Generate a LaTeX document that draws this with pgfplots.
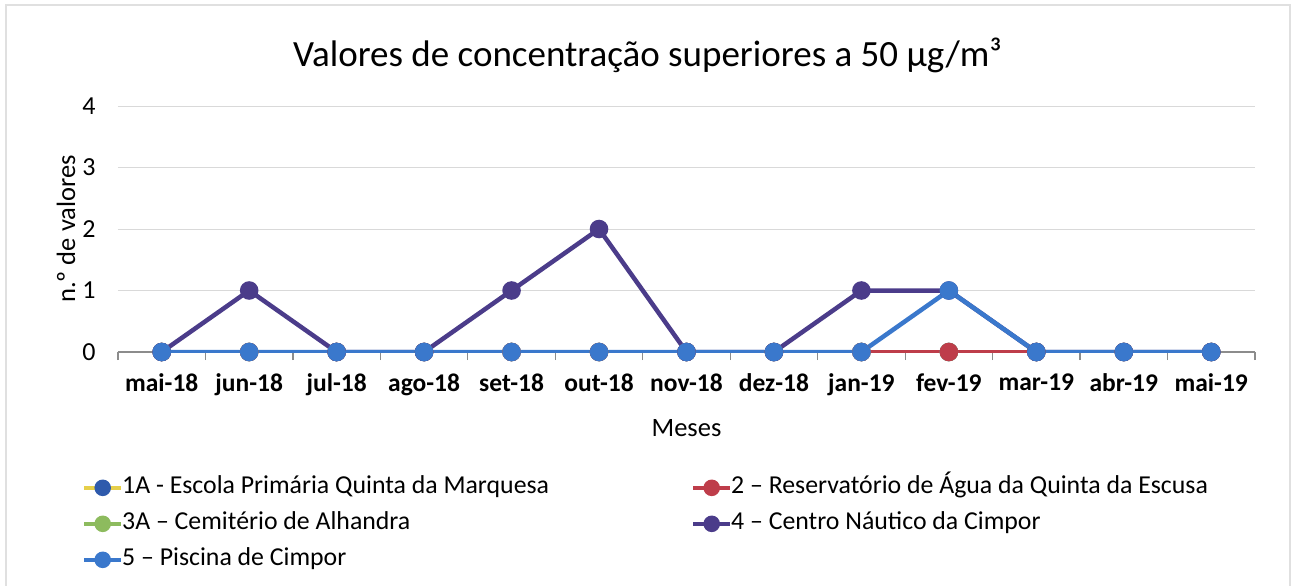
\documentclass[border=0pt]{standalone}
\usepackage{pgfplots}
\pgfplotsset{compat=1.18}
\usepackage{fontspec}
\setmainfont{Carlito}
\definecolor{cyel}{HTML}{E6CF4A}
\definecolor{c1mk}{HTML}{2E5AAC}
\definecolor{cred}{HTML}{BE3D4A}
\definecolor{cgrn}{HTML}{8DBB5E}
\definecolor{cpur}{HTML}{4B3C8A}
\definecolor{cblu}{HTML}{3A78CC}
\begin{document}
\begin{tikzpicture}[x=1pt,y=1pt]
\path[use as bounding box] (-118,-234) rectangle (1178,352);
\draw[black!12, line width=1.5pt] (-112,-262) rectangle (1172,347);
\node[font=\fontsize{37}{42}\selectfont] at (529.5,297) {Valores de concentração superiores a 50 µg/m³};
\begin{axis}[at={(0,0)}, anchor=south west, scale only axis,
  width=1137pt, height=246pt,
  xmin=-0.5, xmax=12.5, ymin=0, ymax=4,
  axis x line=bottom, axis y line=left,
  y axis line style={draw=none},
  x axis line style={-, color=black!45, line width=1.2pt},
  xtick={0,...,12},
  xticklabels={mai-18,jun-18,jul-18,ago-18,set-18,out-18,nov-18,dez-18,jan-19,fev-19,mar-19,abr-19,mai-19},
  minor xtick={-0.5,0.5,...,12.5},
  major tick length=0pt, minor tick length=8pt,
  tick align=outside,
  minor tick style={color=black!45, line width=1.2pt},
  ytick={0,...,4},
  ymajorgrids, grid style={black!15, line width=1pt},
  /pgf/number format/assume math mode=true,
  xticklabel style={font=\bfseries\fontsize{25.5}{30}\selectfont, yshift=-18pt},
  yticklabel style={font=\fontsize{26}{30}\selectfont, xshift=-19pt},
  xlabel={Meses}, ylabel={n.º de valores},
  label style={font=\fontsize{26.5}{30}\selectfont},
  xlabel style={yshift=-17pt},
  ylabel style={yshift=0pt},
  every axis plot/.append style={line width=4.5pt, mark=*, mark size=7pt},
  legend image code/.code={\draw[overlay,mark repeat=2,mark phase=2,mark size=6pt,#1] plot coordinates {(-4pt,0pt) (14.5pt,0pt) (33pt,0pt)};
    \path[draw=none, fill=none] (0pt,-6pt) (33pt,6pt);},
  legend columns=2,
  legend cell align=left,
  legend style={at={(-0.029,-0.47)}, anchor=north west, draw=none, fill=none,
    font=\fontsize{25.8}{30}\selectfont,
    nodes={inner sep=1pt, text height=23pt, text depth=11pt}},
]
% drawing order: 1A, 3A, 2, 4, 5
\addplot[forget plot, color=cyel, mark options={fill=c1mk, draw=c1mk}] coordinates {(0,0)(1,0)(2,0)(3,0)(4,0)(5,0)(6,0)(7,0)(8,0)(9,0)(10,0)(11,0)(12,0)};
\addplot[forget plot, color=cgrn, mark options={fill=cgrn, draw=cgrn}] coordinates {(0,0)(1,0)(2,0)(3,0)(4,0)(5,0)(6,0)(7,0)(8,0)(9,0)(10,0)(11,0)(12,0)};
\addplot[forget plot, color=cred, mark options={fill=cred, draw=cred}] coordinates {(0,0)(1,0)(2,0)(3,0)(4,0)(5,0)(6,0)(7,0)(8,0)(9,0)(10,0)(11,0)(12,0)};
\addplot[forget plot, color=cpur, mark options={fill=cpur, draw=cpur}] coordinates {(0,0)(1,1)(2,0)(3,0)(4,1)(5,2)(6,0)(7,0)(8,1)(9,1)(10,0)(11,0)(12,0)};
\addplot[forget plot, color=cblu, mark options={fill=cblu, draw=cblu}] coordinates {(0,0)(1,0)(2,0)(3,0)(4,0)(5,0)(6,0)(7,0)(8,0)(9,1)(10,0)(11,0)(12,0)};
\addlegendimage{color=cyel, line width=4.5pt, mark=*, mark options={fill=c1mk, draw=c1mk}}
\addlegendentry{\makebox[574pt][l]{1A - Escola Primária Quinta da Marquesa}}
\addlegendimage{color=cred, line width=4.5pt, mark=*, mark options={fill=cred, draw=cred}}
\addlegendentry{2 – Reservatório de Água da Quinta da Escusa}
\addlegendimage{color=cgrn, line width=4.5pt, mark=*, mark options={fill=cgrn, draw=cgrn}}
\addlegendentry{\makebox[574pt][l]{3A – Cemitério de Alhandra}}
\addlegendimage{color=cpur, line width=4.5pt, mark=*, mark options={fill=cpur, draw=cpur}}
\addlegendentry{4 – Centro Náutico da Cimpor}
\addlegendimage{color=cblu, line width=4.5pt, mark=*, mark options={fill=cblu, draw=cblu}}
\addlegendentry{\makebox[574pt][l]{5 – Piscina de Cimpor}}
\end{axis}
\end{tikzpicture}
\end{document}
